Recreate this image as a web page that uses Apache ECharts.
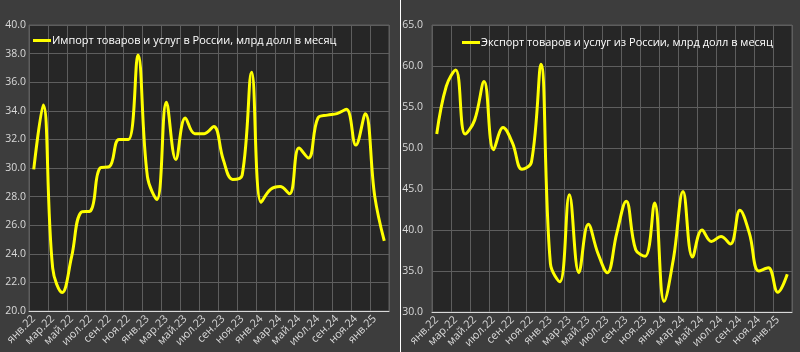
<!DOCTYPE html>
<html>
<head>
<meta charset="utf-8">
<script src="https://cdn.jsdelivr.net/npm/echarts@6/dist/echarts.min.js"></script>
<style>
html,body{margin:0;padding:0;background:#3d3d3d;}
#c{width:800px;height:352px;}
</style>
</head>
<body>
<div id="c"></div>
<script>
const categories = [
  'янв.22','фев.22','мар.22','апр.22','май.22','июн.22','июл.22','авг.22','сен.22','окт.22','ноя.22','дек.22',
  'янв.23','фев.23','мар.23','апр.23','май.23','июн.23','июл.23','авг.23','сен.23','окт.23','ноя.23','дек.23',
  'янв.24','фев.24','мар.24','апр.24','май.24','июн.24','июл.24','авг.24','сен.24','окт.24','ноя.24','дек.24',
  'янв.25','фев.25'
];
const importValues = [
  29.9, 34.4, 23.0, 21.3, 23.8, 26.9, 27.0, 30.0, 30.1, 32.0, 32.0, 37.9,
  29.4, 27.8, 34.6, 30.6, 33.5, 32.4, 32.4, 32.9, 30.6, 29.2, 29.5, 36.7,
  27.6, 28.5, 28.7, 28.2, 31.4, 30.7, 33.5, 33.7, 33.8, 34.1, 31.6, 33.8,
  28.0, 24.9
];
const exportValues = [
  51.7, 57.5, 59.5, 51.7, 53.4, 58.1, 49.8, 52.5, 50.6, 47.4, 48.3, 60.2,
  35.9, 33.7, 44.3, 34.8, 40.7, 37.2, 34.8, 39.6, 43.5, 37.6, 36.8, 43.3,
  31.3, 36.6, 44.7, 36.7, 40.0, 38.6, 39.2, 38.3, 42.4, 39.6, 35.0, 35.4,
  32.4, 34.6
];
const importTitle = 'Импорт товаров и услуг в России, млрд долл в месяц';
const exportTitle = 'Экспорт товаров и услуг из России, млрд долл в месяц';

const FONT = 'Open Sans';
const labelColor = '#d9d9d9';
const gridColor = '#5e5e5e';

function xAxis(idx){
  return {
    type:'category', gridIndex:idx, data:categories, boundaryGap:true,
    axisLine:{show:true, lineStyle:{color:'#d9d9d9', width:1}},
    axisTick:{show:false},
    axisLabel:{interval:1, rotate:45, color:labelColor, fontSize:11, fontFamily:FONT, margin:6},
    splitLine:{show:true, interval:1, lineStyle:{color:gridColor, width:1}}
  };
}
function yAxis(idx, min, max, step, margin){
  return {
    type:'value', gridIndex:idx, min:min, max:max, interval:step,
    axisLine:{show:false}, axisTick:{show:false},
    axisLabel:{color:labelColor, fontSize:10.5, fontFamily:FONT, margin:margin,
      formatter:v=>v.toFixed(1)},
    splitLine:{show:true, lineStyle:{color:gridColor, width:1}}
  };
}

const chart = echarts.init(document.getElementById('c'), null, {renderer:'canvas'});
chart.setOption({
  backgroundColor:'#3d3d3d',
  animation:false,
  textStyle:{fontFamily:FONT},
  graphic:[
    {type:'line', shape:{x1:400.5,y1:0,x2:400.5,y2:352}, style:{stroke:'#ffffff', lineWidth:1}, z:10}
  ],
  grid:[
    {left:29, right:411, top:25, bottom:41, show:true, backgroundColor:'#262626', borderColor:gridColor, borderWidth:1},
    {left:432, right:8, top:25, bottom:40, show:true, backgroundColor:'#262626', borderColor:gridColor, borderWidth:1}
  ],
  legend:[
    {data:[{name:importTitle, icon:'rect'}], left:28, top:30, itemWidth:18, itemHeight:3, itemGap:2,
      itemStyle:{color:'#ffff00'},
      textStyle:{color:'#ffffff', fontSize:11, fontFamily:FONT, padding:[0,0,0,-4]}},
    {data:[{name:exportTitle, icon:'rect'}], left:457, top:32, itemWidth:18, itemHeight:3,
      itemStyle:{color:'#ffff00'},
      textStyle:{color:'#ffffff', fontSize:11, fontFamily:FONT, padding:[0,0,0,-4]}}
  ],
  xAxis:[xAxis(0), xAxis(1)],
  yAxis:[yAxis(0,20,40,2,3), yAxis(1,30,65,5,9)],
  series:[
    {name:importTitle, type:'line', xAxisIndex:0, yAxisIndex:0, data:importValues,
      smooth:0.4, symbol:'none', lineStyle:{color:'#ffff00', width:3}, itemStyle:{color:'#ffff00'}},
    {name:exportTitle, type:'line', xAxisIndex:1, yAxisIndex:1, data:exportValues,
      smooth:0.4, symbol:'none', lineStyle:{color:'#ffff00', width:3}, itemStyle:{color:'#ffff00'}}
  ]
});
</script>
</body>
</html>
